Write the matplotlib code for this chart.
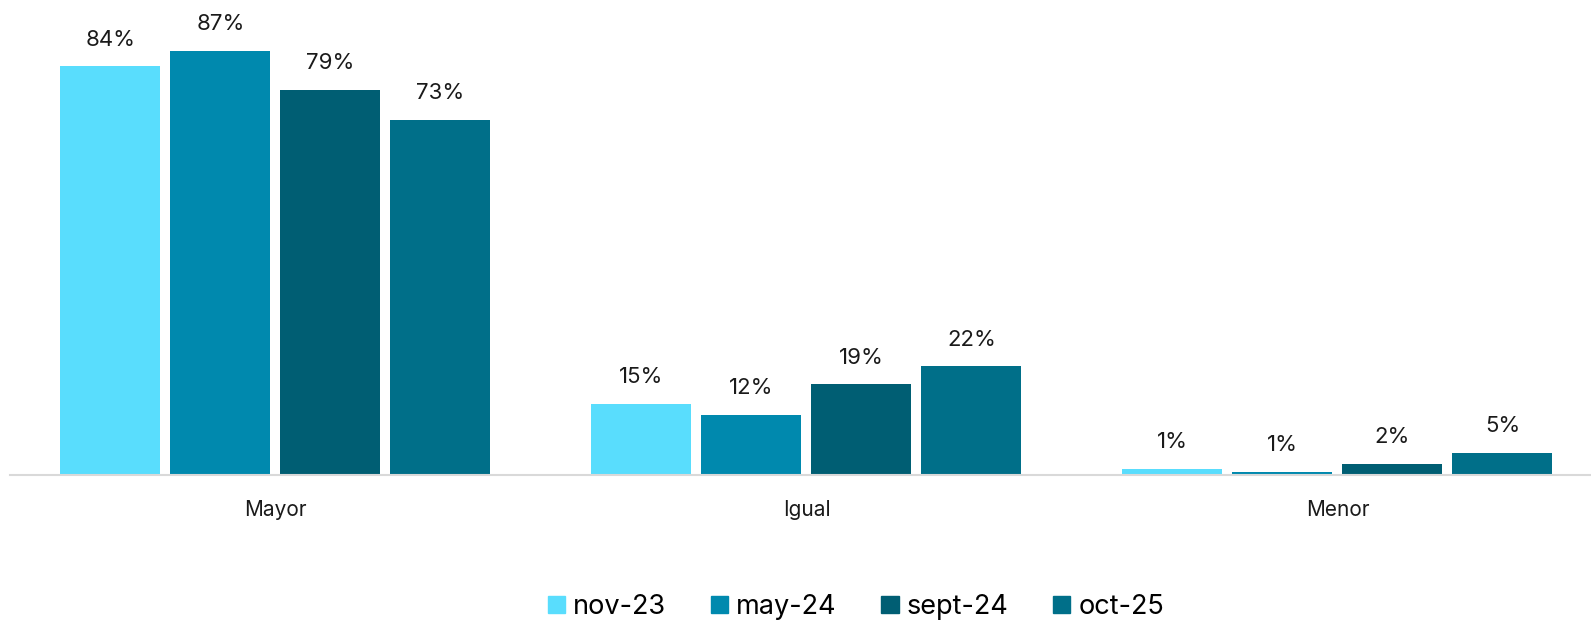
import matplotlib.pyplot as plt
from matplotlib.patches import Patch
import numpy as np

plt.rcParams['font.family'] = ['Inter', 'DejaVu Sans']

categories = ['Mayor', 'Igual', 'Menor']
series = ['nov-23', 'may-24', 'sept-24', 'oct-25']
nov_23 = [84.0, 14.6, 1.2]
may_24 = [87.1, 12.3, 0.6]
sept_24 = [79.2, 18.6, 2.3]
oct_25 = [73.0, 22.3, 4.6]
colors = ['#59DDFD', '#0089AE', '#005E73', '#006F89']

values = [nov_23, may_24, sept_24, oct_25]

W, H = 1591, 622
fig = plt.figure(figsize=(W / 100, H / 100), dpi=100)
# axes: baseline at y=475 px, left edge at x=10 px
ax = fig.add_axes([10 / W, (H - 475) / H, 1581 / W, 438 / H])

x = np.arange(len(categories))
width = 100 / 531
step = 110 / 531
for i, (vals, col) in enumerate(zip(values, colors)):
    bars = ax.bar(x + (i - 1.5) * step, vals, width, color=col, label=series[i])
    for b, v in zip(bars, vals):
        ax.annotate(f'{v:.0f}%', (b.get_x() + b.get_width() / 2, v),
                    xytext=(0, 12), textcoords='offset points',
                    ha='center', va='bottom', fontsize=16, color='#1a1a1a')

ax.set_xlim(-0.5, -0.5 + 1581 / 531)
ax.set_ylim(0, 90)
ax.set_xticks(x)
ax.set_xticklabels(categories, fontsize=15, color='#1a1a1a')
ax.tick_params(axis='x', length=0, pad=18)
ax.set_yticks([])
for s in ['top', 'right', 'left']:
    ax.spines[s].set_visible(False)
ax.spines['bottom'].set_color('#D9D9D9')
ax.spines['bottom'].set_linewidth(1.5)

handles = [Patch(color=c) for c in colors]
fig.legend(handles, series, loc='center', bbox_to_anchor=(0.538, (H - 607) / H),
           ncol=4, frameon=False, fontsize=19.5, handlelength=0.63, handleheight=0.63,
           handletextpad=0.3, columnspacing=1.66, borderpad=0)

fig.savefig('out.png', dpi=100)
